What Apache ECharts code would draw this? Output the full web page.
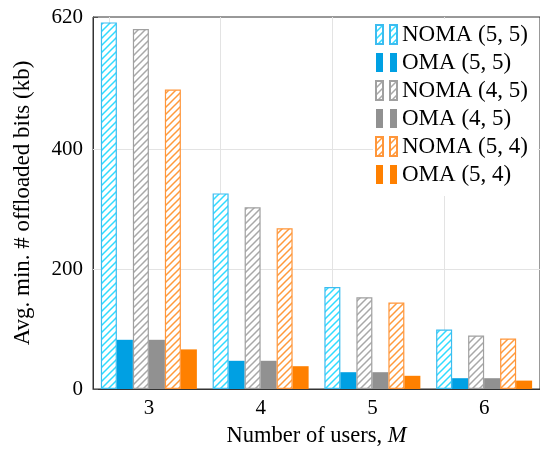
<!DOCTYPE html>
<html>
<head>
<meta charset="utf-8">
<script src="https://cdn.jsdelivr.net/npm/echarts@6/dist/echarts.min.js"></script>
<style>html,body{margin:0;padding:0;background:#fff;}#c{width:540px;height:453px;}</style>
</head>
<body>
<div id="c"></div>
<script>
// ---- data ----
const categories = ['3', '4', '5', '6'];
const seriesNames = ['NOMA (5, 5)', 'OMA (5, 5)', 'NOMA (4, 5)', 'OMA (4, 5)', 'NOMA (5, 4)', 'OMA (5, 4)'];
const noma55 = [611, 326, 170, 99];
const oma55 = [82, 47, 28, 18];
const noma45 = [600, 303, 153, 89];
const oma45 = [82, 47, 28, 18];
const noma54 = [499, 268, 144, 84];
const oma54 = [66, 38, 22, 14];
const yTicks = [0, 200, 400, 620];
const yGrid = [200, 400];

// ---- styling ----
const FONT = 'Liberation Serif';
function hatch(color) {
  const c = document.createElement('canvas');
  c.width = 7; c.height = 7;
  const g = c.getContext('2d');
  g.fillStyle = '#fff';
  g.fillRect(0, 0, 7, 7);
  g.strokeStyle = color;
  g.lineWidth = 1.5;
  g.beginPath();
  g.moveTo(-1, 8); g.lineTo(8, -1);
  g.moveTo(-1, 1); g.lineTo(1, -1);
  g.moveTo(6, 8); g.lineTo(8, 6);
  g.stroke();
  return { image: c, repeat: 'repeat' };
}
const styles = [
  { color: hatch('#2fdcff'), borderColor: '#3cbcf0', borderWidth: 1.2 },
  { color: '#00a0e3' },
  { color: hatch('#a8a8a8'), borderColor: '#a0a0a0', borderWidth: 1.2 },
  { color: '#919191' },
  { color: hatch('#ff9a3c'), borderColor: '#ff963a', borderWidth: 1.2 },
  { color: '#ff8000' }
];
const values = [noma55, oma55, noma45, oma45, noma54, oma54];

const series = values.map((v, i) => ({
  name: seriesNames[i],
  type: 'bar',
  data: v,
  barWidth: 16,
  barGap: '0%',
  itemStyle: styles[i],
  z: 2
}));
series[0].markLine = {
  silent: true,
  z: 1,
  symbol: 'none',
  label: { show: false },
  lineStyle: { color: '#e3e3e3', width: 1, type: 'solid' },
  data: categories.map(c => ({ xAxis: c })).concat(yGrid.map(y => ({ yAxis: y })))
};

const chart = echarts.init(document.getElementById('c'), null, { renderer: 'canvas' });
chart.setOption({
  animation: false,
  backgroundColor: '#fff',
  grid: {
    left: 93, top: 17, width: 450, height: 375,
    show: true, borderColor: '#333', borderWidth: 1, backgroundColor: 'transparent'
  },
  legend: {
    orient: 'vertical',
    left: 373, top: 19,
    padding: [4, 10, 10, 2],
    backgroundColor: '#fff',
    itemWidth: 21, itemHeight: 19, itemGap: 5,
    icon: 'path://M0,0h7v19h-7zM14,0h7v19h-7z',
    data: seriesNames,
    textStyle: { fontFamily: FONT, fontSize: 23, color: '#000', lineHeight: 19 },
    z: 10
  },
  xAxis: {
    type: 'category',
    data: categories,
    boundaryGap: true,
    axisLine: { show: true, lineStyle: { color: '#333', width: 1 } },
    axisTick: { show: false },
    splitLine: { show: false },
    axisLabel: { fontFamily: FONT, fontSize: 21, color: '#000', margin: 9 },
    name: '{a|Number of users, }{b|M}',
    nameLocation: 'middle',
    nameGap: 36,
    nameTextStyle: {
      rich: {
        a: { fontFamily: FONT, fontSize: 22.5, color: '#000' },
        b: { fontFamily: FONT, fontSize: 22.5, color: '#000', fontStyle: 'italic' }
      }
    }
  },
  yAxis: {
    type: 'value',
    min: 0, max: 620,
    axisLine: { show: true, lineStyle: { color: '#333', width: 1 } },
    axisTick: { show: true, inside: true, length: 5, customValues: yTicks, lineStyle: { color: '#555' } },
    splitLine: { show: false },
    axisLabel: { fontFamily: FONT, fontSize: 21, color: '#000', margin: 10, customValues: yTicks },
    name: 'Avg. min. # offloaded bits (kb)',
    nameLocation: 'middle',
    nameGap: 59,
    nameTextStyle: { fontFamily: FONT, fontSize: 23, color: '#000' }
  },
  series: series
});
</script>
</body>
</html>
